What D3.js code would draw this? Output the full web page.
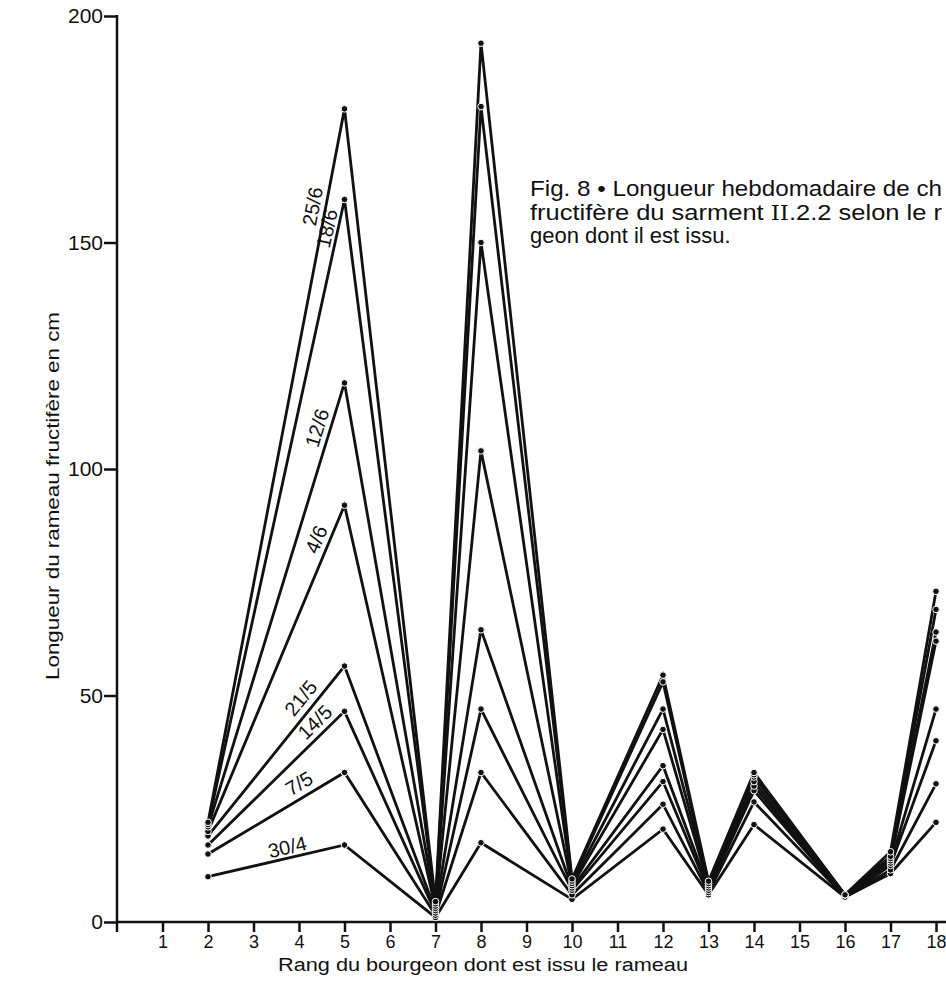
<!DOCTYPE html>
<html>
<head>
<meta charset="utf-8">
<script src="https://cdn.jsdelivr.net/npm/d3@7"></script>
<style>
  body { margin: 0; background: #fff; }
  svg text { font-family: "Liberation Sans", Arial, sans-serif; fill: #111; }
</style>
</head>
<body>
<svg id="chart" width="946" height="983"></svg>
<script>
// rang du bourgeon (x) where a shoot was measured
var ranks = [2, 5, 7, 8, 10, 12, 13, 14, 16, 17, 18];
var xTicks = d3.range(1, 19);
var yTicks = [0, 50, 100, 150, 200];

var dates = ["30/4", "7/5", "14/5", "21/5", "4/6", "12/6", "18/6", "25/6"];

// longueur (cm), one array per weekly reading
var len_30_4 = [10, 17, 1, 17.5, 5, 20.5, 6, 21.5, 5.5, 10.7, 22];
var len_7_5  = [15, 33, 1.5, 33, 6, 26, 6.5, 26.5, 5.5, 11.5, 30.5];
var len_14_5 = [17, 46.5, 2, 47, 7, 31, 7, 29, 5.5, 12.5, 40];
var len_21_5 = [19, 56.5, 2.5, 64.5, 7.5, 34.5, 7.5, 30, 5.5, 13, 47];
var len_4_6  = [20, 92, 3, 104, 8, 42.5, 8, 31, 5.5, 13.5, 62];
var len_12_6 = [21, 119, 3.5, 150, 8.5, 47, 8.5, 32, 6, 14, 64];
var len_18_6 = [21.5, 159.5, 4, 180, 9, 53, 8.5, 32.5, 6, 14.5, 69];
var len_25_6 = [22, 179.5, 4.5, 194, 9.5, 54.5, 9, 33, 6, 15.5, 73];

var series = [len_30_4, len_7_5, len_14_5, len_21_5, len_4_6, len_12_6, len_18_6, len_25_6];

var svg = d3.select("#chart");
var ink = "#111";
var font = "'Liberation Sans', Arial, sans-serif";

var x = d3.scaleLinear().domain([0, 18]).range([117, 936]);
var y = d3.scaleLinear().domain([0, 200]).range([922, 16]);

// axes
var yAxis = svg.append("g")
    .attr("transform", "translate(" + x(0) + ",0)")
    .call(d3.axisLeft(y).tickValues(yTicks).tickSize(13).tickPadding(1));
yAxis.select(".domain").remove();
yAxis.selectAll("line").attr("stroke", ink).attr("stroke-width", 2.5);
yAxis.selectAll("text").attr("font-size", 21).style("font-family", font).attr("fill", ink);

svg.append("line")
    .attr("x1", x(0)).attr("x2", x(0))
    .attr("y1", y(200) - 1).attr("y2", y(0))
    .attr("stroke", ink).attr("stroke-width", 2.5);

var xAxis = svg.append("g")
    .attr("transform", "translate(0," + y(0) + ")")
    .call(d3.axisBottom(x).tickValues(xTicks).tickSize(10).tickPadding(3).tickFormat(d3.format("d")));
xAxis.select(".domain").remove();
xAxis.selectAll("line").attr("stroke", ink).attr("stroke-width", 2.5);
xAxis.selectAll("text").attr("font-size", 18).style("font-family", font).attr("fill", ink);

svg.append("line")
    .attr("x1", x(0)).attr("x2", 946)
    .attr("y1", y(0)).attr("y2", y(0))
    .attr("stroke", ink).attr("stroke-width", 2.5);
svg.append("line")
    .attr("x1", x(0)).attr("x2", x(0))
    .attr("y1", y(0)).attr("y2", y(0) + 10)
    .attr("stroke", ink).attr("stroke-width", 2.5);

// axis titles
svg.append("text")
    .attr("x", 483).attr("y", 971)
    .attr("text-anchor", "middle")
    .attr("font-size", 18)
    .attr("textLength", 410).attr("lengthAdjust", "spacingAndGlyphs")
    .text("Rang du bourgeon dont est issu le rameau");

svg.append("text")
    .attr("transform", "translate(59,496) rotate(-90)")
    .attr("text-anchor", "middle")
    .attr("font-size", 18)
    .attr("textLength", 368).attr("lengthAdjust", "spacingAndGlyphs")
    .text("Longueur du rameau fructif\u00e8re en cm");

// caption, cut by the page edge in the scan
var cap = svg.append("g").attr("font-size", 22);
cap.append("text").attr("x", 530).attr("y", 196)
    .attr("textLength", 412).attr("lengthAdjust", "spacingAndGlyphs")
    .text("Fig. 8 \u2022 Longueur hebdomadaire de ch");
var cap2 = cap.append("text").attr("x", 530).attr("y", 220)
    .attr("textLength", 412).attr("lengthAdjust", "spacingAndGlyphs");
cap2.append("tspan").text("fructif\u00e8re du sarment ");
cap2.append("tspan").style("font-family", "'DejaVu Serif', serif").attr("font-size", 20).text("II");
cap2.append("tspan").text(".2.2  selon le r");
cap.append("text").attr("x", 530).attr("y", 243)
    .text("geon dont il est issu.");

// lines
var line = d3.line()
    .x((d, i) => x(ranks[i]))
    .y(d => y(d));

svg.append("g").selectAll("path")
  .data(series)
  .join("path")
    .attr("d", line)
    .attr("fill", "none")
    .attr("stroke", ink)
    .attr("stroke-width", 2.8)
    .attr("stroke-linejoin", "miter");

// dots with a thin white halo, like the printed figure
svg.append("g").selectAll("g")
  .data(series)
  .join("g")
  .selectAll("circle")
  .data(d => d)
  .join("circle")
    .attr("cx", (d, i) => x(ranks[i]))
    .attr("cy", d => y(d))
    .attr("r", 3.3)
    .attr("fill", ink)
    .attr("stroke", "#fff")
    .attr("stroke-width", 1);

// date labels along the segment rank 2 -> rank 5
var labelT = [0.6, 0.72, 0.85, 0.76, 0.88, 0.89, 0.95, 0.86];
var labelOff = [11, 14, 13, 14, 13, 13, 11, 13];

svg.append("g").selectAll("text")
  .data(dates)
  .join("text")
    .attr("font-size", 20)
    .attr("text-anchor", "middle")
    .attr("dominant-baseline", "central")
    .attr("transform", function(d, i) {
      var s = series[i];
      var x0 = x(ranks[0]), y0 = y(s[0]);
      var x1 = x(ranks[1]), y1 = y(s[1]);
      var dx = x1 - x0, dy = y1 - y0;
      var len = Math.sqrt(dx * dx + dy * dy);
      var ux = dx / len, uy = dy / len;
      var t = labelT[i];
      var px = x0 + dx * t + uy * labelOff[i];
      var py = y0 + dy * t - ux * labelOff[i];
      var ang = Math.atan2(dy, dx) * 180 / Math.PI;
      return "translate(" + px + "," + py + ") rotate(" + ang + ")";
    })
    .text(d => d);
</script>
</body>
</html>
